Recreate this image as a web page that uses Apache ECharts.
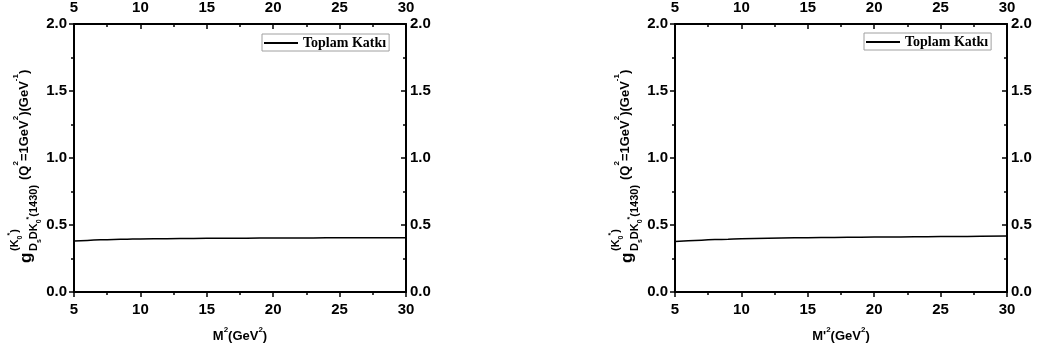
<!DOCTYPE html>
<html>
<head>
<meta charset="utf-8">
<script src="https://cdn.jsdelivr.net/npm/echarts@6/dist/echarts.min.js"></script>
<style>html,body{margin:0;padding:0;background:#fff;}#c{width:1045px;height:354px;}</style>
</head>
<body>
<div id="c"></div>
<script>
var xValues = [5, 6, 7, 8, 9, 10, 12, 14, 16, 18, 20, 22, 24, 26, 28, 30];
var leftValues = [0.380, 0.385, 0.389, 0.392, 0.394, 0.396, 0.398, 0.400, 0.401, 0.402, 0.403, 0.403, 0.404, 0.404, 0.405, 0.405];
var rightValues = [0.376, 0.382, 0.387, 0.391, 0.394, 0.397, 0.401, 0.404, 0.406, 0.408, 0.410, 0.411, 0.413, 0.414, 0.416, 0.417];
var seriesName = 'Toplam Katkı';
var xTicks = {min: 5, max: 30, interval: 5};
var yTicks = {min: 0, max: 2, interval: 0.5};

function pairs(xs, ys) { return xs.map(function (x, i) { return [x, ys[i]]; }); }

var FONT = 'Liberation Sans, Arial, sans-serif';
var labelStyle = {fontFamily: FONT, fontWeight: 'bold', fontSize: 15, color: '#000'};
var lineStyle = {color: '#000', width: 2};

function xAxis(grid, pos, name) {
  var ax = {
    type: 'value', gridIndex: grid, position: pos,
    min: xTicks.min, max: xTicks.max, interval: xTicks.interval,
    axisLine: {show: true, onZero: false, lineStyle: lineStyle},
    axisTick: {show: true, inside: pos === 'top', length: 5, lineStyle: {color: '#000', width: 1.5}},
    minorTick: {show: true, splitNumber: 2, length: 3, lineStyle: {color: '#000', width: 1.5}},
    splitLine: {show: false},
    axisLabel: Object.assign({margin: pos === 'top' ? 9 : 10}, labelStyle)
  };
  if (name) {
    ax.name = name;
    ax.nameLocation = 'middle';
    ax.nameGap = 34;
    ax.nameTextStyle = {
      rich: {
        m: {fontFamily: FONT, fontWeight: 'bold', fontSize: 13, color: '#000', lineHeight: 17, verticalAlign: 'bottom'},
        s: {fontFamily: FONT, fontWeight: 'bold', fontSize: 8, color: '#000', lineHeight: 17, verticalAlign: 'top'}
      }
    };
  }
  return ax;
}
function yAxis(grid, pos) {
  return {
    type: 'value', gridIndex: grid, position: pos,
    min: yTicks.min, max: yTicks.max, interval: yTicks.interval,
    axisLine: {show: true, onZero: false, lineStyle: lineStyle},
    axisTick: {show: true, inside: pos === 'right', length: 5, lineStyle: {color: '#000', width: 1.5}},
    minorTick: {show: true, splitNumber: 2, length: 3, lineStyle: {color: '#000', width: 1.5}},
    splitLine: {show: false},
    axisLabel: Object.assign({margin: pos === 'right' ? 4 : 7, formatter: function (v) { return v.toFixed(1); }}, labelStyle)
  };
}

function yName(x, y) {
  var subRich = {
    n: {fontFamily: FONT, fontWeight: 'bold', fontSize: 11, fill: '#000', lineHeight: 17, verticalAlign: 'middle'},
    d: {fontFamily: FONT, fontWeight: 'bold', fontSize: 7, fill: '#000', lineHeight: 17, verticalAlign: 'bottom'},
    u: {fontFamily: FONT, fontWeight: 'bold', fontSize: 7, fill: '#000', lineHeight: 17, verticalAlign: 'top'}
  };
  var mainRich = {
    m: {fontFamily: FONT, fontWeight: 'bold', fontSize: 13, fill: '#000', lineHeight: 19, verticalAlign: 'bottom'},
    s: {fontFamily: FONT, fontWeight: 'bold', fontSize: 8, fill: '#000', lineHeight: 19, verticalAlign: 'top'}
  };
  return {
    type: 'group', x: x, y: y, rotation: Math.PI / 2,
    children: [
      {type: 'text', x: 0, y: 0, style: {text: 'g', font: 'bold 17px ' + FONT, fill: '#000', align: 'left', verticalAlign: 'middle'}},
      {type: 'text', x: 12, y: -11, style: {text: '{n|(K}{d|0}{u|*}{n|)}', rich: subRich, align: 'left', verticalAlign: 'middle'}},
      {type: 'text', x: 12, y: 8, style: {text: '{n|D}{d|s}{n|DK}{d|0}{u|*}{n|(1430)}', rich: subRich, align: 'left', verticalAlign: 'middle'}},
      {type: 'text', x: 83, y: -5, style: {text: '{m|(Q}{s|2}{m|=1GeV}{s|2}{m|)(GeV}{s|-1}{m|)}', rich: mainRich, align: 'left', verticalAlign: 'middle'}}
    ]
  };
}

var legendBase = {
  data: [seriesName], orient: 'horizontal',
  icon: 'rect',
  itemWidth: 34, itemHeight: 2, itemGap: 4,
  padding: [2, 3, 1, 2],
  borderColor: '#a0a0a0', borderWidth: 1, borderRadius: 0,
  backgroundColor: '#fff',
  itemStyle: {color: '#000', borderWidth: 0},
  textStyle: {fontFamily: 'Liberation Serif, Times New Roman, serif', fontWeight: 'bold', fontSize: 14, color: '#000'},
  selectedMode: false
};

var option = {
  animation: false,
  backgroundColor: '#fff',
  grid: [
    {left: 74, right: 639, top: 22, bottom: 62},
    {left: 675, right: 38, top: 22, bottom: 62}
  ],
  xAxis: [
    xAxis(0, 'bottom', '{m|M}{s|2}{m|(GeV}{s|2}{m|)}'),
    xAxis(0, 'top'),
    xAxis(1, 'bottom', "{m|M'}{s|2}{m|(GeV}{s|2}{m|)}"),
    xAxis(1, 'top')
  ],
  yAxis: [yAxis(0, 'left'), yAxis(0, 'right'), yAxis(1, 'left'), yAxis(1, 'right')],
  legend: [
    Object.assign({left: 262, top: 34}, legendBase),
    Object.assign({left: 864, top: 33}, legendBase)
  ],
  graphic: [yName(26, 263), yName(627, 263)],
  series: [
    {name: seriesName, type: 'line', xAxisIndex: 0, yAxisIndex: 0, data: pairs(xValues, leftValues),
      symbol: 'none', smooth: true, lineStyle: {color: '#000', width: 1.5}, itemStyle: {color: '#000'}},
    {name: seriesName, type: 'line', xAxisIndex: 2, yAxisIndex: 2, data: pairs(xValues, rightValues),
      symbol: 'none', smooth: true, lineStyle: {color: '#000', width: 1.5}, itemStyle: {color: '#000'}}
  ]
};
var chart = echarts.init(document.getElementById('c'), null, {renderer: 'canvas'});
chart.setOption(option);
</script>
</body>
</html>
